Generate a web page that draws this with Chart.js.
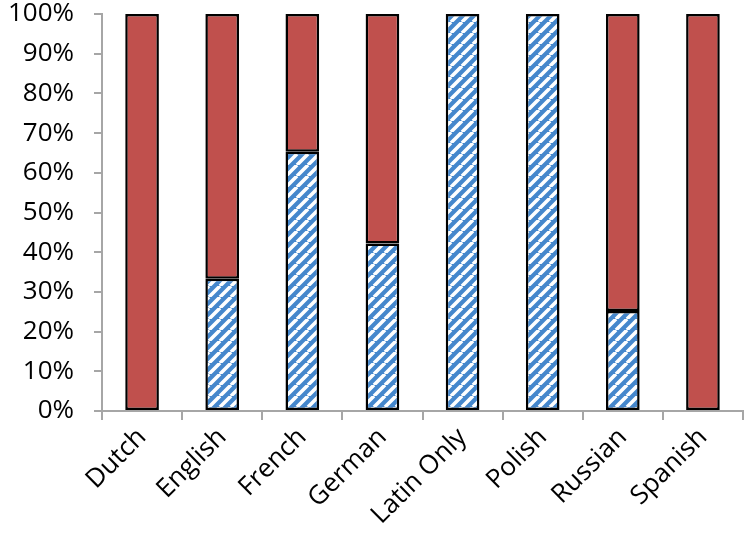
<!DOCTYPE html>
<html>
<head>
<meta charset="utf-8">
<script src="https://cdn.jsdelivr.net/npm/chart.js@4"></script>
<style>
  html, body { margin: 0; padding: 0; background: #fff; }
  #wrap { width: 744px; height: 547px; }
</style>
</head>
<body>
<div id="wrap"><canvas id="chart"></canvas></div>
<script>
// categorías y porcentajes
const languages = ['Dutch', 'English', 'French', 'German', 'Latin Only', 'Polish', 'Russian', 'Spanish'];
const latinShare = [0, 33.3, 65.3, 42.2, 100, 100, 25.2, 0];
const otherShare = [100, 66.7, 34.7, 57.8, 0, 0, 74.8, 100];
const yTicks = [0, 10, 20, 30, 40, 50, 60, 70, 80, 90, 100];

// patrón de rayas diagonales azul / blanco
function stripePattern() {
  const size = 11;
  const c = document.createElement('canvas');
  c.width = size; c.height = size;
  const g = c.getContext('2d');
  g.fillStyle = '#4587CC';
  g.fillRect(0, 0, size, size);
  g.strokeStyle = '#ffffff';
  g.lineWidth = 3.6;
  g.beginPath();
  for (let k = -1; k <= 1; k++) {
    g.moveTo(k * size, size);
    g.lineTo(k * size + size, 0);
  }
  g.stroke();
  return g.createPattern(c, 'repeat');
}

const font = { family: '"Open Sans", sans-serif', size: 26 };

new Chart(document.getElementById('chart'), {
  type: 'bar',
  data: {
    labels: languages,
    datasets: [
      { label: 'Latin', data: latinShare, backgroundColor: stripePattern(), borderColor: '#000', borderWidth: 2.5, borderSkipped: false },
      { label: 'Other', data: otherShare, backgroundColor: '#C0504D', borderColor: '#000', borderWidth: 2.5, borderSkipped: false }
    ]
  },
  options: {
    animation: false,
    responsive: true,
    maintainAspectRatio: false,
    layout: { padding: { top: 14, right: 1, left: 0, bottom: 0 } },
    datasets: { bar: { categoryPercentage: 1, barPercentage: 0.42 } },
    plugins: { legend: { display: false }, tooltip: { enabled: false } },
    scales: {
      x: {
        stacked: true,
        grid: { drawOnChartArea: false, color: '#A6A6A6', lineWidth: 2, tickLength: 9 },
        border: { color: '#A6A6A6', width: 2 },
        ticks: { color: '#000', font, minRotation: 45, maxRotation: 45, padding: 2 },
        afterFit: s => { s.height = 136; }
      },
      y: {
        stacked: true,
        min: 0, max: 100,
        afterBuildTicks: s => { s.ticks = yTicks.map(v => ({ value: v })); },
        grid: { drawOnChartArea: false, color: '#A6A6A6', lineWidth: 2, tickLength: 8 },
        border: { color: '#A6A6A6', width: 2 },
        ticks: { color: '#000', font, padding: 20, callback: v => v + '%' },
        afterFit: s => { s.width = 102; s.paddingTop = 0; s.paddingBottom = 0; }
      }
    }
  }
});
</script>
</body>
</html>
